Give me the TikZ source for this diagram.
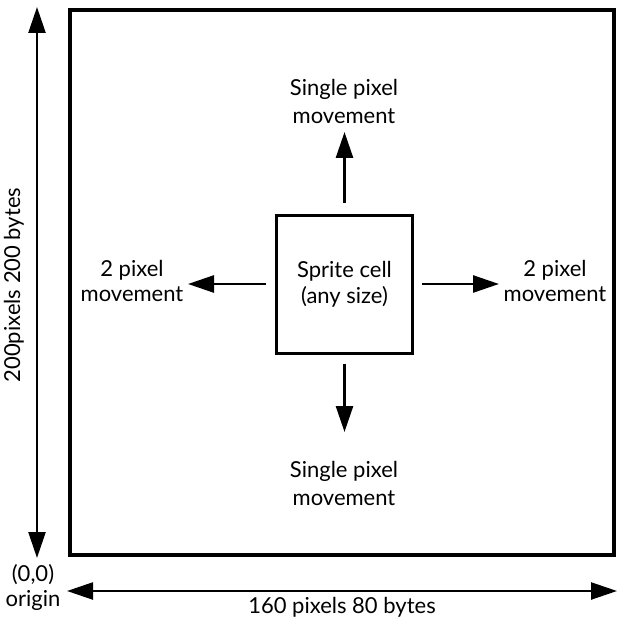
\documentclass[tikz,border=0pt]{standalone}
\usepackage{fontspec}
\setmainfont{Lato}
\usetikzlibrary{arrows.meta}
\begin{document}
\begin{tikzpicture}[x=1pt,y=-1pt,
  lbl/.style={align=center, inner sep=0pt, font=\fontsize{22}{27}\selectfont},
  arr/.style={line width=2.6pt, -{Triangle[length=26pt,width=17pt]}},
  dimarr/.style={line width=2.4pt, {Triangle[length=26pt,width=17pt]}-{Triangle[length=26pt,width=17pt]}}]
\useasboundingbox (0,0) rectangle (617,620);
% screen area and sprite cell
\node[draw, line width=4.2pt, minimum width=544pt, minimum height=545pt, inner sep=0pt] (screen) at (342,282.5) {};
\node[draw, line width=3pt, minimum width=136pt, minimum height=138pt, inner sep=0pt, align=center,
      font=\fontsize{22}{26}\selectfont] (cell) at (344.5,284) {Sprite cell\\(any size)};
% movement labels
\node[lbl, font=\fontsize{22}{28}\selectfont] (up) at (344,101) {Single pixel\\movement};
\node[lbl, font=\fontsize{22}{28}\selectfont] (down) at (344,483) {Single pixel\\movement};
\node[lbl, font=\fontsize{22}{25}\selectfont] (left) at (132,281) {2 pixel\\movement};
\node[lbl, font=\fontsize{22}{25}\selectfont] (right) at (555,281) {2 pixel\\movement};
% movement arrows end points
\coordinate (upt) at (344,132);
\coordinate (dnt) at (344,432);
\coordinate (lt) at (188,283);
\coordinate (rt) at (499,283);
\draw[arr, shorten <=10pt] (cell.north) -- (cell.north |- upt);
\draw[arr, shorten <=9pt] (cell.south) -- (cell.south |- dnt);
\draw[arr, shorten <=9pt] (cell.west) -- (cell.west -| lt);
\draw[arr, shorten <=8pt] (cell.east) -- (cell.east -| rt);
% screen dimensions
\coordinate (ytop) at (37,7);
\coordinate (ybot) at (37,558);
\coordinate (xl) at (67,591);
\coordinate (xr) at (617,591);
\draw[dimarr] (ytop) -- (ybot);
\draw[dimarr] (xl) -- (xr);
\node[lbl, rotate=90] (ylab) at (14,285) {200pixels 200 bytes};
\node[lbl] (xlab) at (342,607) {160 pixels 80 bytes};
\node[lbl, font=\fontsize{22}{25}\selectfont] (orig) at (33,587) {(0,0)\\origin};
\end{tikzpicture}
\end{document}
